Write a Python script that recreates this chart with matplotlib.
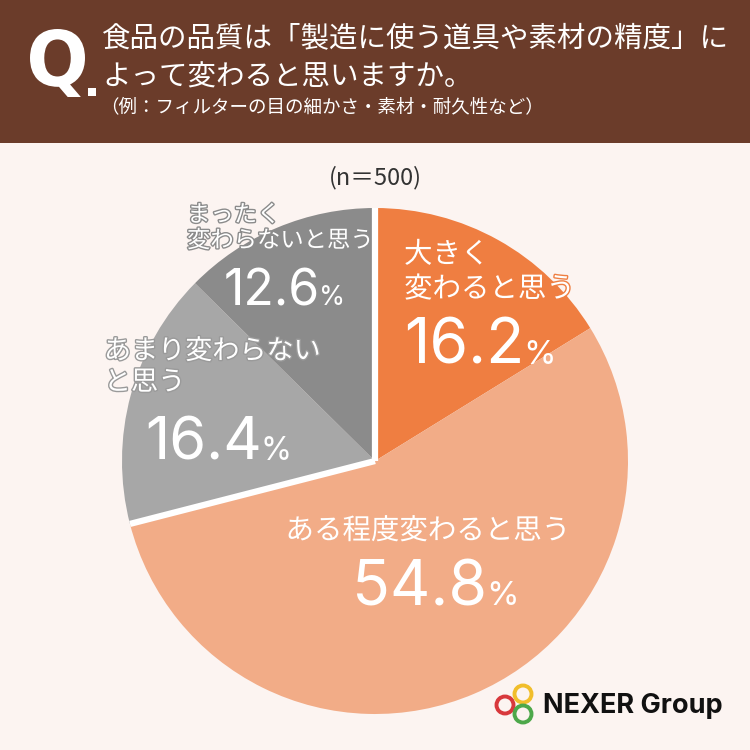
import matplotlib
matplotlib.use("Agg")
import matplotlib.pyplot as plt
import matplotlib.patheffects as pe
from matplotlib.patches import Rectangle, Circle, PathPatch
from matplotlib.textpath import TextPath
from matplotlib.font_manager import FontProperties
from matplotlib.transforms import Affine2D
import numpy as np

plt.rcParams['font.family'] = ['Noto Sans CJK JP', 'DejaVu Sans']

# ---- data ----
categories = ["大きく\n変わると思う", "ある程度変わると思う", "あまり変わらない\nと思う", "まったく\n変わらないと思う"]
values = [16.2, 54.8, 16.4, 12.6]
colors = ["#EF7E41", "#F2AC87", "#A7A7A7", "#8B8B8B"]
value_labels = ["16.2", "54.8", "16.4", "12.6"]
title_lines = ["食品の品質は「製造に使う道具や素材の精度」に", "よって変わると思いますか。"]
subtitle = "（例：フィルターの目の細かさ・素材・耐久性など）"
n_label = "(n＝500)"

BG = "#FCF4F1"
HEADER = "#6B3C2A"
NUMFONT = ['Inter', 'DejaVu Sans']

W = H = 750
fig = plt.figure(figsize=(7.5, 7.5), dpi=100)
fig.patch.set_facecolor(BG)

def fx(px):
    return px / W

def fy(py):
    return 1 - py / H

# header band
fig.patches.append(Rectangle((0, fy(143)), 1, 143 / H, transform=fig.transFigure,
                             facecolor=HEADER, edgecolor='none', zorder=0))

# condensed "Q" drawn as a text path fitted into its box
tp = TextPath((0, 0), "Q", size=1, prop=FontProperties(family='DejaVu Sans', weight='bold'))
ext = tp.get_extents()
x0, x1, ytop, ybot = 30, 85, 29, 97
sx = (x1 - x0) / ext.width
sy = (ybot - ytop) / ext.height
tr = Affine2D().translate(-ext.x0, -ext.y0).scale(sx / W, sy / H).translate(fx(x0), fy(ybot))
fig.patches.append(PathPatch(tr.transform_path(tp), transform=fig.transFigure,
                             facecolor='white', edgecolor='none', zorder=2))
fig.patches.append(Rectangle((fx(88), fy(96)), 8 / W, 8 / H, transform=fig.transFigure,
                             facecolor='white', edgecolor='none', zorder=2))

fig.text(fx(102), fy(38), title_lines[0], color='white', fontsize=20.5, ha='left', va='center')
fig.text(fx(102), fy(78), title_lines[1], color='white', fontsize=20.5, ha='left', va='center')
fig.text(fx(100), fy(107), subtitle, color='white', fontsize=13.3, ha='left', va='center')

fig.text(fx(375), fy(178), n_label, color='#333333', fontsize=17, ha='center', va='center')

# pie axes: center (375, 461) px, radius 253 px
cx, cy, R = 375, 461, 253
ax = fig.add_axes([fx(cx - R), fy(cy + R), 2 * R / W, 2 * R / H])
wedges, _ = ax.pie(values, colors=colors, startangle=90, counterclock=False,
                   radius=1, wedgeprops=dict(linewidth=0))
ax.set_xlim(-1, 1)
ax.set_ylim(-1, 1)
ax.set_aspect('equal')
ax.axis('off')

# white separators between the orange group and the gray group
cum = np.cumsum([0] + values)
total = cum[-1]
for frac in [cum[0] / total, cum[2] / total]:
    ang = np.deg2rad(90 - 360 * frac)
    ax.plot([0, np.cos(ang)], [0, np.sin(ang)], color='white', lw=4.5,
            solid_capstyle='butt', zorder=3)

def dx(px):
    return (px - cx) / R

def dy(py):
    return (cy - py) / R

fig.canvas.draw()
renderer = fig.canvas.get_renderer()

def pct(x_px, base_py, num, size, stroke=None):
    eff = [pe.withStroke(linewidth=2, foreground=stroke)] if stroke else None
    t = ax.text(dx(x_px), dy(base_py), num, color='white', fontsize=size, family=NUMFONT,
                ha='left', va='baseline', zorder=5, path_effects=eff)
    bb = t.get_window_extent(renderer)
    xe = ax.transData.inverted().transform((bb.x1, 0))[0]
    ax.text(xe - 1 / R, dy(base_py), "%", color='white', fontsize=size * 0.53, family=NUMFONT,
            ha='left', va='baseline', zorder=5, path_effects=eff)

def label(x_px, y_px, s, size, stroke, ls=1.2, ha='left'):
    ax.text(dx(x_px), dy(y_px), s, color='white', fontsize=size, ha=ha, va='center',
            linespacing=ls, zorder=5,
            path_effects=[pe.withStroke(linewidth=2, foreground=stroke)])

# 16.2 (大きく変わると思う)
label(404, 272, categories[0], 20.5, colors[0], ls=1.2)
pct(404, 364, value_labels[0], 45)
# 54.8
label(428, 531, categories[1], 20.5, colors[1], ha='center')
pct(352, 605, value_labels[1], 45)
# 16.4
label(104, 367, categories[2], 19.5, '#9A9A9A', ls=1.2)
pct(145, 460, value_labels[2], 43)
# 12.6
label(187, 228, categories[3], 16.8, '#8B8B8B', ls=1.15)
pct(224, 305, value_labels[3], 36)

# logo
for (px, py, col) in [(505, 705, '#D8383C'), (523, 694, '#F1BE2B'), (523, 714, '#4DA84A')]:
    fig.patches.append(Circle((fx(px), fy(py)), 8.5 / W, transform=fig.transFigure,
                              facecolor='none', edgecolor=col, lw=2.8, zorder=5))
fig.text(fx(543), fy(706), "NEXER Group", color='#111111', fontsize=19.5, fontweight='bold',
         family=['Inter', 'DejaVu Sans'], ha='left', va='center')

fig.savefig("out.png", dpi=100, facecolor=BG)
